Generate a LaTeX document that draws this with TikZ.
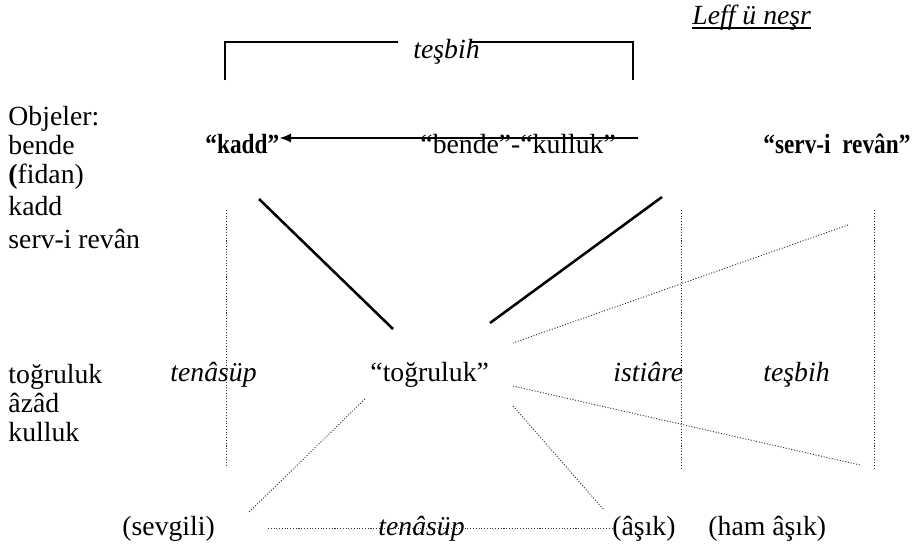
\documentclass[tikz,border=0pt]{standalone}
\usepackage{fontspec}
\setmainfont{Liberation Serif}
\usetikzlibrary{arrows.meta}
\begin{document}
\begin{tikzpicture}[
  x=0.4332pt, y=-0.4332pt,
  word/.style={inner sep=0pt, anchor=base west, font=\fontsize{12}{14}\selectfont},
  figure/.style={word, font=\fontsize{12}{14}\selectfont\itshape},
  key/.style={word, font=\fontsize{12}{14}\selectfont\bfseries\addfontfeature{FakeStretch=0.84}},
  link/.style={line width=1.1pt},
  hint/.style={line width=0.4pt, black!80, dash pattern=on 0.45pt off 0.75pt}
]
\useasboundingbox (0,0) rectangle (919,551);

% Title
\node[figure] (leff) at (692,24) {Leff ü neşr};
\draw[line width=0.6pt] ([yshift=-1.7pt]leff.base west) -- ([yshift=-1.7pt]leff.base east);

% Bracket
\node[figure] (tesbihTop) at (413,58) {teşbih};
\coordinate (brL) at (225,80);
\coordinate (brLe) at (398,42);
\coordinate (brRs) at (470,42);
\coordinate (brR) at (633,80);
\draw[line width=0.9pt] (brL) |- (brLe);
\draw[line width=0.9pt] (brRs) -| (brR);

% Objects
\node[word] (obj) at (8,125) {Objeler:};
\node[word] (bende) at (8,154) {bende};
\node[word] (fidan) at (8,183) {\textbf{(}fidan)};
\node[word] (kadd) at (8,215) {kadd};
\node[word] (serv) at (8,248) {serv-i revân};
\node[word] (dogru) at (8,383) {toğruluk};
\node[word] (azad) at (8,412) {âzâd};
\node[word] (kul) at (8,441) {kulluk};

% Top row
\node[key] (kaddQ) at (205,153) {“kadd”};
\node[word] (bendeQ) at (420,153) {“bende”-“kulluk”};
\node[key] (servQ) at (763,153) {“serv-i\ \ revân”};

% Middle row
\node[figure] (tenasupMid) at (170,381) {tenâsüp};
\node[word] (dogruQ) at (370,381) {“toğruluk”};
\node[figure] (istiare) at (613,381) {istiâre};
\node[figure] (tesbihMid) at (763,381) {teşbih};

% Bottom row
\node[word] (sevgili) at (122,535) {(sevgili)};
\node[figure] (tenasupBot) at (378,535) {tenâsüp};
\node[word] (asik) at (612,535) {(âşık)};
\node[word] (hamasik) at (708,535) {(ham âşık)};

% Line ends
\coordinate (arrS) at (638,138);
\coordinate (kaddL) at (259,199);
\coordinate (dogruL) at (393,329);
\coordinate (servL) at (662,197);
\coordinate (dogruR) at (490,323);
\coordinate (vA) at (226,210);
\coordinate (vAb) at (226,466);
\coordinate (vB) at (681,210);
\coordinate (vBb) at (681,470);
\coordinate (vC) at (874,210);
\coordinate (vCb) at (874,470);
\coordinate (servD) at (848,225);
\coordinate (dogruD1) at (513,343);
\coordinate (dogruD2) at (513,386);
\coordinate (hamD) at (860,465);
\coordinate (dogruD3) at (513,406);
\coordinate (asikD) at (604,510);
\coordinate (dogruD4) at (365,399);
\coordinate (sevD) at (248,513);
\coordinate (sevL) at (268,528);

% Connections
\draw[-{Latex[length=5pt,width=4pt]}, line width=0.6pt] (arrS) -- (kaddQ.east |- arrS);
\draw[link] (kaddL) -- (dogruL);
\draw[link] (servL) -- (dogruR);
\draw[hint] (vA) -- (vAb);
\draw[hint] (vB) -- (vBb);
\draw[hint] (vC) -- (vCb);
\draw[hint] (servD) -- (dogruD1);
\draw[hint] (dogruD2) -- (hamD);
\draw[hint] (dogruD3) -- (asikD);
\draw[hint] (dogruD4) -- (sevD);
\draw[hint] (sevL) -- (asik.west |- sevL);
\end{tikzpicture}
\end{document}
